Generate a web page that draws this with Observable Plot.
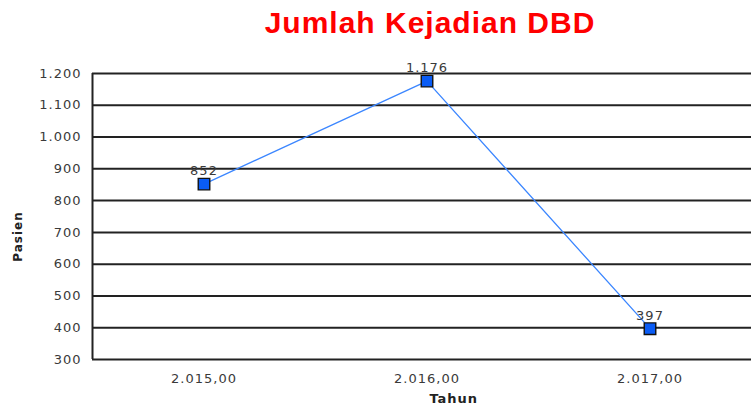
<!DOCTYPE html>
<html>
<head>
<meta charset="utf-8">
<script src="https://cdn.jsdelivr.net/npm/d3@7"></script>
<script src="https://cdn.jsdelivr.net/npm/@observablehq/plot@0.6"></script>
<style>
  html, body { margin: 0; padding: 0; background: #fff; }
  #wrap { position: relative; width: 751px; height: 408px; overflow: hidden; font-family: "Liberation Sans", Arial, sans-serif; }
  #title { position: absolute; left: 430px; top: 5px; transform: translateX(-50%); white-space: nowrap;
           font-size: 30px; letter-spacing: 1px; font-weight: bold; color: #ff0000; line-height: 36px; }
  #chart { position: absolute; left: 0; top: 40px; width: 761px; }
  #chart svg { max-width: none !important; }
  #chart svg text { letter-spacing: 1px; }
</style>
</head>
<body>
<div id="wrap">
  <div id="title">Jumlah Kejadian DBD</div>
  <div id="chart"></div>
</div>
<script>
const years = [2015, 2016, 2017];
const patients = [852, 1176, 397];
const yTicks = [300, 400, 500, 600, 700, 800, 900, 1000, 1100, 1200];
const xLabels = ["2.015,00", "2.016,00", "2.017,00"];
const pointLabels = ["852", "1.176", "397"];

const data = years.map((y, i) => ({year: y, value: patients[i], label: pointLabels[i], xl: xLabels[i]}));
const fmtY = d => d3.format(",")(d).replace(/,/g, ".");

const chart = Plot.plot({
  width: 761,
  height: 368,
  marginLeft: 92,
  marginRight: 0,
  marginTop: 33,
  marginBottom: 49,
  style: {fontFamily: "DejaVu Sans, sans-serif", fontSize: "13px", color: "#333", background: "#fff", overflow: "visible", maxWidth: "none"},
  x: {domain: [2014.5, 2017.5], axis: null},
  y: {domain: [300, 1200], axis: null},
  marks: [
    Plot.ruleY(yTicks, {stroke: "#222", strokeWidth: 2}),
    Plot.ruleX([2014.5], {y1: 300, y2: 1200, stroke: "#222", strokeWidth: 2}),
    Plot.text(yTicks, {x: 2014.5, y: d => d, text: fmtY, textAnchor: "end", dx: -11, fill: "#3a3a3a", fontSize: 13}),
    Plot.text(data, {x: "year", y: 300, text: "xl", dy: 19, fill: "#3a3a3a", fontSize: 13}),
    Plot.line(data, {x: "year", y: "value", stroke: "#3b86ff", strokeWidth: 1.3}),
    Plot.dot(data, {x: "year", y: "value", symbol: "square", r: 6.5, fill: "#0a5cf5", stroke: "#111", strokeWidth: 1.4}),
    Plot.text(data, {x: "year", y: "value", text: "label", dy: -13, fill: "#3a3a3a", fontSize: 13}),
    Plot.text(["Tahun"], {x: 2016.12, y: 300, dy: 39, fontWeight: "bold", fill: "#222", fontSize: 13}),
    Plot.text(["Pasien"], {x: 2014.5, y: 687, dx: -74, rotate: -90, fontWeight: "bold", fill: "#222", fontSize: 12})
  ]
});
document.getElementById("chart").appendChild(chart);
</script>
</body>
</html>
